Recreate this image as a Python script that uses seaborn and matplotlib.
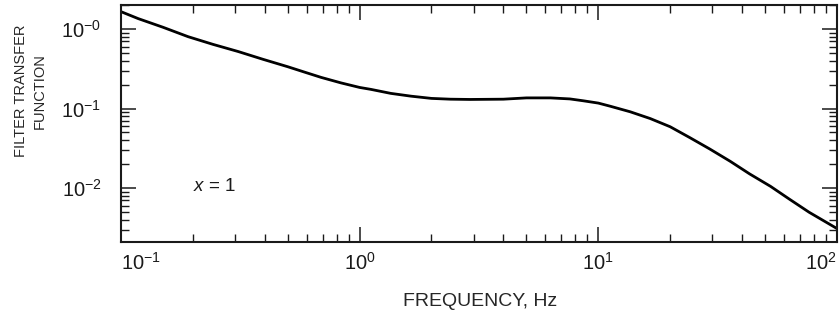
import matplotlib as mpl
mpl.use("Agg")
import matplotlib.pyplot as plt
import matplotlib.ticker as mticker
import seaborn as sns

# filter transfer function (x = 1)
freq_hz = [0.1, 0.118, 0.15, 0.191, 0.243, 0.31, 0.394, 0.5, 0.587, 0.69, 0.835,
           1.0, 1.115, 1.35, 1.64, 2.0, 2.4, 2.9, 4.0, 5.0, 6.3, 7.6, 8.66,
           10.0, 11.2, 13.6, 16.5, 20.0, 24.2, 29.3, 35.7, 43.0, 52.7, 63.0, 76.4, 100.0]
transfer = [1.65, 1.35, 1.05, 0.80, 0.64, 0.52, 0.415, 0.335, 0.287, 0.246, 0.21,
            0.184, 0.174, 0.155, 0.143, 0.134, 0.131, 0.130, 0.131, 0.136, 0.136, 0.132, 0.125,
            0.117, 0.107, 0.091, 0.0748, 0.059, 0.043, 0.031, 0.0217, 0.0151, 0.0105, 0.0073, 0.00497, 0.0031]

x_ticks = [0.1, 1, 10, 100]
x_ticklabels = [r"$10^{-1}$", r"$10^{0}$", r"$10^{1}$", r"$10^{2}$"]
y_ticks = [1, 0.1, 0.01]
y_ticklabels = [r"$10^{-0}$", r"$10^{-1}$", r"$10^{-2}$"]

sns.set_style("ticks")
plt.rcParams["font.family"] = ["Liberation Sans", "DejaVu Sans"]
plt.rcParams["mathtext.fontset"] = "custom"
plt.rcParams["mathtext.rm"] = "Liberation Sans"
plt.rcParams["mathtext.it"] = "Liberation Sans:italic"
plt.rcParams["text.color"] = "#1a1a1a"

fig, ax = plt.subplots(figsize=(8.39, 3.21), dpi=100)
fig.subplots_adjust(left=0.1442, right=0.9976, bottom=0.2461, top=0.9844)

sns.lineplot(x=freq_hz, y=transfer, ax=ax, color="black", linewidth=2.0)

ax.set_xscale("log")
ax.set_yscale("log")
ax.set_xlim(0.1, 100)
ax.set_ylim(0.0021, 2.0)

ax.set_xticks(x_ticks)
ax.set_xticklabels(x_ticklabels)
ax.set_yticks(y_ticks)
ax.set_yticklabels(y_ticklabels)
ax.xaxis.set_minor_locator(mticker.LogLocator(base=10, subs=range(2, 10), numticks=20))
ax.yaxis.set_minor_locator(mticker.LogLocator(base=10, subs=range(2, 10), numticks=20))
ax.xaxis.set_minor_formatter(mticker.NullFormatter())
ax.yaxis.set_minor_formatter(mticker.NullFormatter())

xl = ax.get_xticklabels()
xl[0].set_horizontalalignment("left")
xl[-1].set_horizontalalignment("right")

ax.tick_params(which="both", direction="in", top=True, right=True, colors="#1a1a1a")
ax.tick_params(which="major", length=10.5, width=1.1, labelsize=14.5)
ax.tick_params(axis="x", which="major", pad=7)
ax.tick_params(axis="y", which="major", pad=14)
ax.tick_params(which="minor", length=5.7, width=1.0)
for s in ax.spines.values():
    s.set_linewidth(1.5)
    s.set_color("#1a1a1a")

ax.set_xlabel("FREQUENCY, Hz", fontsize=14)
ax.xaxis.set_label_coords(0.501, -0.215)
ax.set_ylabel("FILTER TRANSFER\nFUNCTION", fontsize=10.5, linespacing=1.4)
ax.yaxis.label.set_va("center")
ax.yaxis.set_label_coords(-0.127, 0.637)

ax.text(0.1006, 0.236, r"$x$ = 1", transform=ax.transAxes, fontsize=13.5,
        ha="left", va="center")

fig.savefig("out.png", dpi=100)
